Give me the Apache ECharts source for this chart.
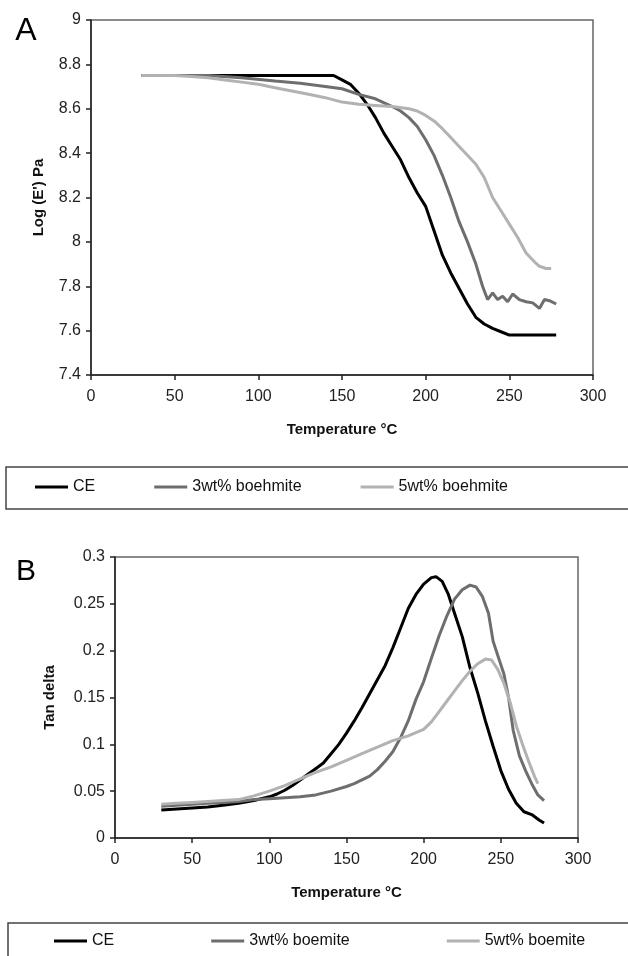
<!DOCTYPE html>
<html>
<head>
<meta charset="utf-8">
<script src="https://cdn.jsdelivr.net/npm/echarts@6/dist/echarts.min.js"></script>
<style>
  html, body { margin: 0; padding: 0; background: #fff; }
  #chart { width: 628px; height: 956px; }
</style>
</head>
<body>
<div id="chart"></div>
<script>
// panel A: log storage modulus
const tempA_CE = [30, 50, 100, 145, 150, 155, 160, 165, 170, 175, 180, 185, 190, 195, 200, 205, 210, 215, 220, 225, 230, 235, 240, 245, 250, 260, 270, 278]
const logE_CE = [8.75, 8.75, 8.75, 8.75, 8.73, 8.71, 8.67, 8.62, 8.56, 8.49, 8.43, 8.37, 8.29, 8.22, 8.16, 8.05, 7.94, 7.86, 7.79, 7.72, 7.66, 7.63, 7.61, 7.595, 7.58, 7.58, 7.58, 7.58]

const tempA_3 = [30, 50, 70, 90, 110, 125, 140, 150, 160, 170, 180, 185, 190, 195, 200, 205, 210, 215, 220, 225, 230, 234, 237, 240, 243, 246, 249, 252, 256, 260, 264, 268, 271, 274, 278]
const logE_3 = [8.75, 8.75, 8.75, 8.74, 8.725, 8.715, 8.70, 8.69, 8.665, 8.645, 8.61, 8.59, 8.56, 8.52, 8.46, 8.39, 8.30, 8.20, 8.09, 8.00, 7.90, 7.80, 7.74, 7.77, 7.74, 7.755, 7.73, 7.765, 7.74, 7.73, 7.725, 7.70, 7.74, 7.735, 7.72]

const tempA_5 = [30, 50, 60, 70, 80, 90, 100, 110, 120, 130, 140, 150, 160, 170, 180, 190, 195, 200, 205, 210, 215, 220, 225, 230, 235, 240, 245, 250, 255, 260, 265, 268, 272, 275]
const logE_5 = [8.75, 8.75, 8.745, 8.74, 8.73, 8.72, 8.71, 8.695, 8.68, 8.665, 8.65, 8.63, 8.62, 8.615, 8.61, 8.60, 8.59, 8.57, 8.545, 8.51, 8.47, 8.43, 8.39, 8.35, 8.29, 8.20, 8.14, 8.08, 8.02, 7.95, 7.91, 7.89, 7.88, 7.88]

// panel B: tan delta
const tempB_CE = [30, 40, 50, 60, 70, 80, 90, 100, 105, 110, 115, 120, 125, 130, 135, 140, 145, 150, 155, 160, 165, 170, 175, 180, 185, 190, 195, 200, 205, 208, 212, 216, 220, 225, 230, 235, 240, 245, 250, 255, 260, 265, 270, 275, 278]
const tan_CE = [0.030, 0.031, 0.032, 0.033, 0.035, 0.037, 0.040, 0.044, 0.047, 0.051, 0.056, 0.062, 0.068, 0.074, 0.080, 0.090, 0.100, 0.112, 0.125, 0.139, 0.154, 0.169, 0.184, 0.203, 0.224, 0.245, 0.260, 0.271, 0.278, 0.279, 0.274, 0.260, 0.240, 0.215, 0.182, 0.155, 0.125, 0.098, 0.072, 0.052, 0.037, 0.028, 0.025, 0.019, 0.016]

const tempB_3 = [30, 40, 50, 60, 70, 80, 90, 100, 110, 120, 130, 140, 150, 155, 160, 165, 170, 175, 180, 185, 190, 195, 200, 205, 210, 215, 220, 225, 230, 234, 238, 242, 245, 248, 252, 255, 258, 262, 266, 270, 274, 278]
const tan_3 = [0.034, 0.035, 0.036, 0.037, 0.038, 0.039, 0.041, 0.042, 0.043, 0.044, 0.046, 0.050, 0.055, 0.058, 0.062, 0.066, 0.073, 0.082, 0.092, 0.107, 0.125, 0.148, 0.167, 0.192, 0.216, 0.237, 0.255, 0.265, 0.270, 0.268, 0.258, 0.240, 0.210, 0.195, 0.175, 0.150, 0.115, 0.088, 0.072, 0.058, 0.046, 0.040]

const tempB_5 = [30, 40, 50, 60, 70, 80, 90, 100, 110, 120, 130, 140, 150, 160, 170, 180, 190, 200, 205, 210, 215, 220, 225, 230, 235, 240, 244, 248, 252, 256, 260, 264, 268, 272, 274]
const tan_5 = [0.036, 0.037, 0.038, 0.039, 0.040, 0.041, 0.045, 0.050, 0.056, 0.063, 0.070, 0.076, 0.083, 0.090, 0.097, 0.104, 0.109, 0.116, 0.124, 0.135, 0.146, 0.157, 0.168, 0.178, 0.186, 0.191, 0.190, 0.180, 0.165, 0.145, 0.120, 0.100, 0.082, 0.065, 0.058]

const namesA = ['CE', '3wt% boehmite', '5wt% boehmite']
const namesB = ['CE', '3wt% boemite', '5wt% boemite']
const lineColors = ['#000000', '#6e6e6e', '#b2b2b2']

const FONT = 'Liberation Sans, Arial, sans-serif'

function zip(xs, ys) {
    return xs.map(function (x, i) { return [x, ys[i]] })
}

function xAxisCfg(gridIndex) {
    return {
        gridIndex: gridIndex,
        type: 'value',
        min: 0,
        max: 300,
        interval: 50,
        name: 'Temperature °C',
        nameLocation: 'middle',
        nameGap: 47,
        nameTextStyle: { fontFamily: FONT, fontWeight: 'bold', fontSize: 15, color: '#111' },
        axisLine: { show: true, lineStyle: { color: '#222', width: 1.5 } },
        axisTick: { show: true, inside: false, length: 5, lineStyle: { color: '#222', width: 1.5 } },
        axisLabel: { fontFamily: FONT, fontSize: 16, color: '#222', margin: 14 },
        splitLine: { show: false }
    }
}

function yAxisCfg(gridIndex, min, max, interval, name, nameGap) {
    return {
        gridIndex: gridIndex,
        type: 'value',
        min: min,
        max: max,
        interval: interval,
        name: name,
        nameLocation: 'middle',
        nameGap: nameGap,
        nameTextStyle: { fontFamily: FONT, fontWeight: 'bold', fontSize: 15, color: '#111' },
        axisLine: { show: true, lineStyle: { color: '#222', width: 1.5 } },
        axisTick: { show: true, inside: false, length: 5, lineStyle: { color: '#222', width: 1.5 } },
        axisLabel: { fontFamily: FONT, fontSize: 16, color: '#222', margin: 10 },
        splitLine: { show: false }
    }
}

function lineSeries(name, idx, axisIdx, data) {
    return {
        name: name,
        type: 'line',
        xAxisIndex: axisIdx,
        yAxisIndex: axisIdx,
        data: data,
        symbol: 'none',
        smooth: false,
        lineStyle: { color: lineColors[idx], width: 3 },
        itemStyle: { color: lineColors[idx] }
    }
}

const myChart = echarts.init(document.getElementById('chart'))

const option = {
    animation: false,
    backgroundColor: '#fff',
    grid: [{
        left: 91, right: 35, top: 20, height: 355,
        show: true, borderColor: '#666', borderWidth: 1.5, backgroundColor: 'transparent'
    }, {
        left: 115, right: 50, top: 557, height: 281,
        show: true, borderColor: '#666', borderWidth: 1.5, backgroundColor: 'transparent'
    }],
    xAxis: [xAxisCfg(0), xAxisCfg(1)],
    yAxis: [
        yAxisCfg(0, 7.4, 9, 0.2, "Log (E') Pa", 45),
        yAxisCfg(1, 0, 0.3, 0.05, 'Tan delta', 58)
    ],
    legend: [{
        data: namesA,
        left: 35,
        top: 479,
        padding: 0,
        icon: 'rect',
        itemWidth: 33,
        itemHeight: 3,
        itemGap: 59,
        selectedMode: false,
        textStyle: { fontFamily: FONT, fontSize: 16, color: '#111' }
    }, {
        data: namesB,
        left: 54,
        top: 933,
        padding: 0,
        icon: 'rect',
        itemWidth: 33,
        itemHeight: 3,
        itemGap: 97,
        selectedMode: false,
        textStyle: { fontFamily: FONT, fontSize: 16, color: '#111' }
    }],
    graphic: [
        { type: 'text', x: 26, y: 31, style: { text: 'A', font: '32px ' + FONT, fill: '#000', align: 'center', verticalAlign: 'middle' } },
        { type: 'text', x: 26, y: 572, style: { text: 'B', font: '30px ' + FONT, fill: '#000', align: 'center', verticalAlign: 'middle' } },
        { type: 'rect', shape: { x: 6, y: 467, width: 640, height: 42 }, style: { fill: 'none', stroke: '#444', lineWidth: 1.5 } },
        { type: 'rect', shape: { x: 8, y: 923, width: 640, height: 60 }, style: { fill: 'none', stroke: '#444', lineWidth: 1.5 } }
    ],
    series: [
        lineSeries(namesA[0], 0, 0, zip(tempA_CE, logE_CE)),
        lineSeries(namesA[1], 1, 0, zip(tempA_3, logE_3)),
        lineSeries(namesA[2], 2, 0, zip(tempA_5, logE_5)),
        lineSeries(namesB[0], 0, 1, zip(tempB_CE, tan_CE)),
        lineSeries(namesB[1], 1, 1, zip(tempB_3, tan_3)),
        lineSeries(namesB[2], 2, 1, zip(tempB_5, tan_5))
    ]
}

myChart.setOption(option)
</script>
</body>
</html>
